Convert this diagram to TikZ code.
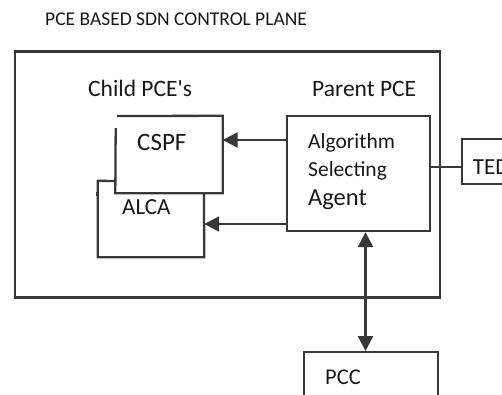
\documentclass[tikz,border=0pt]{standalone}
\usepackage{fontspec}
\setmainfont{Carlito}[Ligatures=TeXOff]
\usetikzlibrary{arrows.meta}
\definecolor{linec}{HTML}{383838}
\tikzset{
  box/.style={draw=linec, line width=2.3pt, inner sep=0pt, rectangle},
  ghost/.style={draw=none, inner sep=0pt, rectangle},
  lbl/.style={inner sep=0pt, anchor=base west, text=black!90},
  arr/.style={draw=linec, line width=2.3pt, -{Triangle[length=15pt,width=15pt]}},
  darr/.style={draw=linec, line width=2.3pt, {Triangle[length=15pt,width=15pt]}-{Triangle[length=15pt,width=15pt]}},
  plain/.style={draw=linec, line width=2.3pt}
}
\begin{document}
\begin{tikzpicture}[x=1pt,y=-1pt]
\useasboundingbox (0,0) rectangle (502,394);
% title
\node[lbl, font=\fontsize{19.5}{22}\selectfont] (title) at (45,25) {PCE BASED SDN CONTROL PLANE};
% outer box
\node[box, minimum width=425pt, minimum height=246pt] (outer) at (227.5,174.5) {};
\node[lbl, font=\fontsize{23.5}{26}\selectfont] (child) at (88,96) {Child PCE's};
\node[lbl, font=\fontsize{23.5}{26}\selectfont] (parent) at (312,96.5) {Parent PCE};
% ALCA box (behind CSPF)
\node[ghost, minimum width=106pt, minimum height=76pt] (alca) at (151,219) {};
\draw[plain] (116,181) -- (alca.north west) -- (alca.south west) -- (alca.south east) -- (204,193);
\draw[linec, line width=1.6pt] (96.7,191.5) -- (96.7,195.5);
% CSPF box
\node[ghost, minimum width=107pt, minimum height=77pt] (cspf) at (169,154.5) {};
\draw[plain] (117,116) -- (cspf.north east) -- (cspf.south east) -- (cspf.south west) -- (115.7,128);
\node[lbl, font=\fontsize{25}{28}\selectfont] (cspft) at (137,150) {CSPF};
\node[lbl, font=\fontsize{23}{26}\selectfont] (alcat) at (122,214) {ALCA};
% ASA box
\node[box, minimum width=143pt, minimum height=115pt] (asa) at (358.5,173.5) {};
\node[lbl, font=\fontsize{21.5}{24}\selectfont] (asa1) at (308,148.3) {Algorithm};
\node[lbl, font=\fontsize{21.5}{24}\selectfont] (asa2) at (308,176.7) {Selecting};
\node[lbl, font=\fontsize{24.5}{27}\selectfont] (asa3) at (308,205) {Agent};
% TED box
\node[box, minimum width=80pt, minimum height=45pt, anchor=north west] (ted) at (460.7,137.7) {};
\node[lbl, font=\fontsize{23}{26}\selectfont] (tedt) at (472.7,174) {TED};
% PCC box
\node[box, minimum width=134pt, minimum height=60pt, anchor=north west] (pcc) at (303,351) {};
\node[lbl, font=\fontsize{22.5}{25}\selectfont] (pcct) at (325,384) {PCC};
% connectors
\path ([yshift=14.5pt]cspf.east) coordinate (c1);
\draw[arr] (asa.west |- c1) -- (c1);
\path ([yshift=-5pt]alca.east) coordinate (c2);
\draw[arr] (asa.west |- c2) -- (c2);
\path ([yshift=6.5pt]asa.east) coordinate (c3);
\draw[plain, line width=1.8pt] (c3) -- (ted.west |- c3);
\path ([xshift=7pt]asa.south) coordinate (c4);
\draw[darr] (c4) -- (pcc.north -| c4);
\end{tikzpicture}
\end{document}
